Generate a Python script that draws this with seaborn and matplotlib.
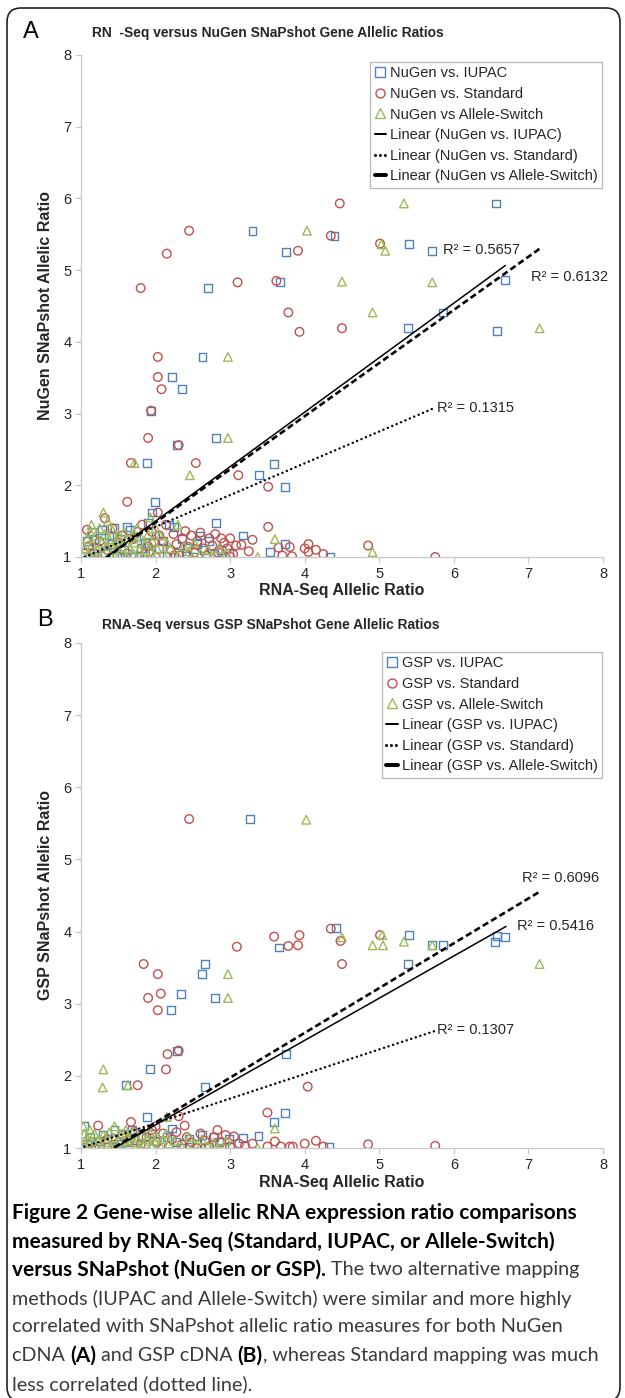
import matplotlib
matplotlib.use("Agg")
import matplotlib.pyplot as plt
import matplotlib.transforms as mtrans
import numpy as np
import pandas as pd
import seaborn as sns
from matplotlib.lines import Line2D
from matplotlib.patches import FancyBboxPatch

# ---------------- data ----------------
# panel A: RNA-Seq ratio (x) vs NuGen SNaPshot ratio (y)
nugen_iupac = [
    (6.56, 5.93), (4.40, 5.48), (3.30, 5.55), (3.75, 5.25), (5.40, 5.37), (5.71, 5.27),
    (6.69, 4.86), (3.67, 4.84), (2.70, 4.75), (5.86, 4.41), (5.39, 4.19), (6.58, 4.15),
    (2.63, 3.79), (2.22, 3.51), (2.35, 3.34), (1.94, 3.04), (2.29, 2.56), (2.81, 2.66),
    (1.89, 2.31), (3.59, 2.30), (3.39, 2.14), (3.74, 1.98), (1.99, 1.77), (1.95, 1.62),
    (2.81, 1.47), (3.17, 1.30), (3.74, 1.18), (3.53, 1.07), (4.34, 1.00), (2.60, 1.30),
    (1.05, 1.05), (1.08, 1.22), (1.12, 1.00), (1.18, 1.25), (1.22, 1.12), (1.28, 1.38),
    (1.32, 1.05), (1.38, 1.30), (1.42, 1.18), (1.48, 1.02), (1.52, 1.25), (1.58, 1.10),
    (1.62, 1.42), (1.66, 1.38), (1.70, 1.00), (1.74, 1.28), (1.80, 1.12), (1.86, 1.20),
    (1.90, 1.48), (1.93, 1.05), (2.00, 1.30), (2.05, 1.12), (2.10, 1.22), (2.18, 1.45),
    (2.25, 1.42), (2.30, 1.06), (2.36, 1.25), (2.42, 1.12), (2.50, 1.00), (2.55, 1.18),
    (2.65, 1.10), (2.72, 1.22), (2.78, 1.04), (2.88, 1.10), (2.98, 1.05), (1.15, 1.35),
    (1.45, 1.40), (1.55, 1.00), (1.78, 1.02), (2.15, 1.02),
]
nugen_standard = [
    (4.47, 5.93), (4.35, 5.48), (2.45, 5.55), (2.15, 5.23), (3.91, 5.27), (5.01, 5.37),
    (1.80, 4.75), (3.10, 4.83), (3.62, 4.85), (3.78, 4.41), (3.93, 4.14), (4.50, 4.19),
    (2.03, 3.79), (2.03, 3.51), (2.08, 3.34), (1.94, 3.04), (1.90, 2.66), (2.31, 2.56),
    (1.67, 2.31), (2.54, 2.31), (3.11, 2.14), (3.51, 1.98), (1.62, 1.77), (2.03, 1.62),
    (1.08, 1.38), (1.32, 1.54), (3.51, 1.42), (3.65, 1.13), (3.80, 1.14), (3.70, 1.02),
    (3.83, 1.01), (4.05, 1.18), (4.00, 1.12), (4.05, 1.07), (4.15, 1.10), (4.25, 1.04),
    (4.85, 1.16), (5.75, 1.00),
    (1.10, 1.15), (1.18, 1.05), (1.25, 1.22), (1.35, 1.10), (1.42, 1.40), (1.50, 1.20),
    (1.55, 1.30), (1.62, 1.05), (1.70, 1.25), (1.76, 1.35), (1.82, 1.45), (1.86, 1.05),
    (1.90, 1.15), (1.95, 1.35), (2.00, 1.00), (2.05, 1.30), (2.10, 1.22), (2.14, 1.45),
    (2.20, 1.10), (2.24, 1.32), (2.28, 1.18), (2.32, 1.02), (2.36, 1.26), (2.40, 1.36),
    (2.44, 1.14), (2.48, 1.30), (2.52, 1.06), (2.56, 1.22), (2.60, 1.34), (2.64, 1.12),
    (2.68, 1.02), (2.72, 1.26), (2.76, 1.16), (2.80, 1.32), (2.84, 1.06), (2.88, 1.26),
    (2.92, 1.20), (2.96, 1.12), (3.00, 1.26), (3.04, 1.04), (3.08, 1.16), (3.15, 1.17),
    (3.25, 1.08), (3.30, 1.24), (3.00, 1.00), (2.25, 1.02), (1.98, 1.20),
]
nugen_switch = [
    (5.33, 5.93), (4.03, 5.55), (5.03, 5.36), (5.08, 5.27), (4.50, 4.84), (5.71, 4.83),
    (4.91, 4.41), (7.15, 4.19), (2.97, 3.79), (2.97, 2.66), (2.46, 2.14), (1.72, 2.31),
    (1.30, 1.62), (3.60, 1.25), (3.37, 1.00), (4.91, 1.07), (1.93, 1.55), (2.30, 1.45),
    (1.02, 1.02), (1.05, 1.12), (1.08, 1.25), (1.10, 1.05), (1.12, 1.35), (1.15, 1.18),
    (1.18, 1.00), (1.20, 1.30), (1.22, 1.10), (1.25, 1.40), (1.28, 1.20), (1.30, 1.05),
    (1.32, 1.32), (1.35, 1.15), (1.38, 1.25), (1.40, 1.00), (1.42, 1.38), (1.45, 1.10),
    (1.48, 1.22), (1.50, 1.30), (1.52, 1.05), (1.55, 1.15), (1.58, 1.35), (1.60, 1.00),
    (1.62, 1.25), (1.65, 1.12), (1.68, 1.30), (1.70, 1.05), (1.72, 1.20), (1.75, 1.40),
    (1.78, 1.10), (1.80, 1.28), (1.83, 1.02), (1.86, 1.18), (1.90, 1.32), (1.93, 1.08),
    (1.96, 1.22), (2.00, 1.40), (2.02, 1.12), (2.06, 1.30), (2.10, 1.05), (2.15, 1.20),
    (2.20, 1.12), (2.30, 1.02), (2.38, 1.15), (2.45, 1.08), (2.52, 1.20), (2.60, 1.05),
    (2.70, 1.10), (2.75, 1.00), (2.85, 1.12), (2.95, 1.06), (1.14, 1.45), (1.36, 1.50),
]

# panel B: RNA-Seq ratio (x) vs GSP SNaPshot ratio (y)
gsp_iupac = [
    (3.27, 5.56), (4.42, 4.05), (5.40, 3.95), (5.71, 3.81), (5.86, 3.81), (5.39, 3.55),
    (6.55, 3.86), (6.58, 3.94), (6.69, 3.93), (3.65, 3.78), (2.66, 3.55), (2.62, 3.41),
    (2.34, 3.14), (2.80, 3.08), (2.21, 2.91), (2.29, 2.35), (3.75, 2.30), (1.92, 2.09),
    (1.60, 1.87), (2.66, 1.84), (3.73, 1.49), (3.59, 1.36), (1.89, 1.43), (1.04, 1.31),
    (3.38, 1.17), (3.17, 1.14), (4.33, 1.01),
    (1.08, 1.05), (1.12, 1.15), (1.18, 1.00), (1.25, 1.10), (1.30, 1.18), (1.36, 1.02),
    (1.42, 1.12), (1.50, 1.05), (1.55, 1.20), (1.62, 1.08), (1.68, 1.25), (1.74, 1.00),
    (1.80, 1.15), (1.86, 1.05), (1.95, 1.20), (2.00, 1.10), (2.08, 1.02), (2.15, 1.15),
    (2.22, 1.27), (2.28, 1.08), (2.35, 1.00), (2.45, 1.12), (2.55, 1.05), (2.62, 1.18),
    (2.70, 1.02), (2.78, 1.15), (2.85, 1.08), (2.92, 1.00), (2.98, 1.12), (1.45, 1.25),
]
gsp_standard = [
    (2.45, 5.56), (4.35, 4.04), (3.59, 3.93), (3.78, 3.80), (3.93, 3.95), (3.91, 3.81),
    (3.09, 3.79), (4.48, 3.87), (4.50, 3.55), (5.01, 3.95), (1.84, 3.55), (2.03, 3.41),
    (1.90, 3.08), (2.07, 3.14), (2.03, 2.91), (2.16, 2.30), (2.31, 2.35), (2.14, 2.09),
    (1.76, 1.87), (4.04, 1.85), (3.50, 1.49), (2.31, 1.44), (2.39, 1.31), (1.67, 1.36),
    (1.23, 1.31), (3.68, 1.02), (3.60, 1.09), (3.80, 1.02), (3.84, 1.02), (3.50, 1.02),
    (4.00, 1.06), (4.15, 1.10), (4.25, 1.02), (4.85, 1.05), (5.75, 1.03),
    (1.05, 1.00), (1.15, 1.08), (1.25, 1.02), (1.35, 1.12), (1.45, 1.05), (1.55, 1.18),
    (1.65, 1.10), (1.72, 1.22), (1.80, 1.05), (1.88, 1.15), (1.95, 1.25), (2.02, 1.08),
    (2.10, 1.20), (2.18, 1.02), (2.22, 1.12), (2.28, 1.22), (2.35, 1.05), (2.42, 1.15),
    (2.48, 1.08), (2.55, 1.00), (2.60, 1.20), (2.66, 1.10), (2.72, 1.02), (2.78, 1.15),
    (2.83, 1.25), (2.88, 1.08), (2.94, 1.18), (3.00, 1.02), (3.05, 1.16), (3.12, 1.06),
    (3.20, 1.03), (3.30, 1.06), (2.00, 1.30),
]
gsp_switch = [
    (4.02, 5.55), (4.50, 3.92), (4.91, 3.81), (5.05, 3.81), (5.04, 3.95), (5.33, 3.86),
    (5.71, 3.81), (7.15, 3.55), (2.97, 3.41), (2.97, 3.08), (1.30, 2.09), (1.29, 1.84),
    (1.63, 1.87), (3.60, 1.27), (3.37, 1.00), (1.03, 1.30), (1.05, 1.20), (1.45, 1.30),
    (2.15, 1.43),
    (1.05, 1.05), (1.08, 1.15), (1.10, 1.00), (1.14, 1.10), (1.18, 1.20), (1.20, 1.05),
    (1.24, 1.12), (1.28, 1.00), (1.30, 1.18), (1.34, 1.08), (1.38, 1.22), (1.40, 1.02),
    (1.44, 1.14), (1.48, 1.06), (1.52, 1.20), (1.55, 1.00), (1.58, 1.10), (1.62, 1.16),
    (1.65, 1.04), (1.68, 1.22), (1.72, 1.08), (1.75, 1.14), (1.78, 1.00), (1.82, 1.18),
    (1.85, 1.06), (1.88, 1.12), (1.92, 1.22), (1.95, 1.02), (1.98, 1.10), (2.02, 1.16),
    (2.06, 1.04), (2.10, 1.12), (2.14, 1.20), (2.18, 1.06), (2.25, 1.10), (2.35, 1.03),
    (2.45, 1.15), (2.52, 1.06), (2.62, 1.12), (2.70, 1.02), (2.78, 1.08), (2.85, 1.00),
    (2.95, 1.10), (1.12, 1.25), (1.60, 1.25),
]

# Excel linear trendlines: slope, intercept, x range, R^2
trend_a = {
    "IUPAC":    (0.760, -0.020, 1.00, 6.69, "R² = 0.5657"),
    "Standard": (0.443, 0.535, 1.05, 5.75, "R² = 0.1315"),
    "Switch":   (0.741, 0.000, 1.00, 7.15, "R² = 0.6132"),
}
trend_b = {
    "IUPAC":    (0.585, 0.152, 1.00, 6.70, "R² = 0.5416"),
    "Standard": (0.341, 0.662, 1.05, 5.77, "R² = 0.1307"),
    "Switch":   (0.621, 0.112, 1.00, 7.15, "R² = 0.6096"),
}
# where each R^2 label sits (data coords, left edge)
r2_pos_a = {"IUPAC": (5.85, 5.28), "Standard": (5.77, 3.08), "Switch": (7.04, 4.90)}
r2_pos_b = {"IUPAC": (6.85, 4.08), "Standard": (5.78, 2.64), "Switch": (6.91, 4.74)}

legend_a = ["NuGen vs. IUPAC", "NuGen vs. Standard", "NuGen vs Allele-Switch",
            "Linear (NuGen vs. IUPAC)", "Linear (NuGen vs. Standard)",
            "Linear (NuGen vs Allele-Switch)"]
legend_b = ["GSP vs. IUPAC", "GSP vs. Standard", "GSP vs. Allele-Switch",
            "Linear (GSP vs. IUPAC)", "Linear (GSP vs. Standard)",
            "Linear (GSP vs. Allele-Switch)"]

ticks = [1, 2, 3, 4, 5, 6, 7, 8]

# ---------------- styling ----------------
sns.set_style("white")
plt.rcParams['font.family'] = ['Liberation Sans', 'DejaVu Sans']

BLUE, RED, GREEN = '#4f81bd', '#c0504d', '#9bbb59'
TXT = '#262626'
W, H = 625, 1398

fig = plt.figure(figsize=(W / 100, H / 100), dpi=100)


def px_axes(left, top, right, bottom):
    return fig.add_axes([left / W, 1 - bottom / H, (right - left) / W, (bottom - top) / H])


line_styles = {
    "IUPAC": dict(linestyle='-', linewidth=1.1),
    "Standard": dict(linestyle=(0, (0.01, 1.9)), linewidth=1.8, dash_capstyle='round'),
    "Switch": dict(linestyle=(0, (2.4, 1.3)), linewidth=1.9),
}


def draw_panel(ax, iupac, standard, switch, trends, r2_pos, labels, ylabel, leg_top):
    markers = [(iupac, 's', BLUE, 32), (standard, 'o', RED, 38), (switch, '^', GREEN, 38)]
    for pts, mk, col, size in markers:
        df = pd.DataFrame(pts, columns=["rna", "snap"])
        sns.scatterplot(data=df, x="rna", y="snap", marker=mk, s=size, color=col,
                        facecolor='none', edgecolor=col, linewidth=1.0, ax=ax,
                        legend=False, zorder=2)

    for key in ["IUPAC", "Standard", "Switch"]:
        slope, icpt, x0, x1, r2 = trends[key]
        xs = np.array([x0, x1])
        sns.lineplot(x=xs, y=slope * xs + icpt, color='black', ax=ax,
                     zorder=3, **line_styles[key])
        ax.text(*r2_pos[key], r2, fontsize=10.5, color=TXT, ha='left', va='center')

    ax.set_xlim(1, 8)
    ax.set_ylim(1, 8)
    ax.set_xticks(ticks)
    ax.set_yticks(ticks)
    for side in ['top', 'right']:
        ax.spines[side].set_visible(False)
    for side in ['left', 'bottom']:
        ax.spines[side].set_color('#c8c8c8')
        ax.spines[side].set_linewidth(0.9)
    ax.tick_params(axis='both', direction='out', length=4, width=0.9, color='#c8c8c8',
                   labelsize=10.5, labelcolor=TXT, pad=3, bottom=True, left=True)
    ax.set_xlabel("RNA-Seq Allelic Ratio", fontsize=11.5, fontweight='bold', color=TXT,
                  labelpad=2)
    ax.set_ylabel(ylabel, fontsize=11.5, fontweight='bold', color=TXT, labelpad=7)

    handles = [
        Line2D([], [], marker='s', ls='none', mfc='none', mec=BLUE, ms=6.5, mew=1),
        Line2D([], [], marker='o', ls='none', mfc='none', mec=RED, ms=6.5, mew=1),
        Line2D([], [], marker='^', ls='none', mfc='none', mec=GREEN, ms=6.5, mew=1),
        Line2D([], [], color='black', lw=1.4),
        Line2D([], [], color='black', lw=2.2, ls=(0, (0.01, 1.6)), dash_capstyle='round'),
        Line2D([], [], color='black', lw=2.8),
    ]
    leg = ax.legend(handles, labels, loc='upper right', bbox_to_anchor=(0.998, leg_top),
                    borderaxespad=0, fontsize=10.5, frameon=True, fancybox=False,
                    handlelength=0.8, handletextpad=0.25, labelspacing=0.45,
                    borderpad=0.3)
    leg.get_frame().set_edgecolor('#a6a6a6')
    leg.get_frame().set_linewidth(0.9)
    for t in leg.get_texts():
        t.set_color(TXT)


ax_a = px_axes(81, 55, 603, 557)
draw_panel(ax_a, nugen_iupac, nugen_standard, nugen_switch, trend_a, r2_pos_a,
           legend_a, "NuGen SNaPshot Allelic Ratio", 0.986)

ax_b = px_axes(81, 643, 603, 1148)
draw_panel(ax_b, gsp_iupac, gsp_standard, gsp_switch, trend_b, r2_pos_b,
           legend_b, "GSP SNaPshot Allelic Ratio", 0.982)

# panel letters and titles
fig.text(31 / W, 1 - 32 / H, "A", fontsize=17, ha='center', va='center', color='black')
fig.text(92 / W, 1 - 33 / H, "RN  -Seq versus NuGen SNaPshot Gene Allelic Ratios",
         fontsize=9.9, fontweight='bold', ha='left', va='center', color=TXT)
fig.text(45 / W, 1 - 620 / H, "B", fontsize=17, ha='center', va='center', color='black')
fig.text(102 / W, 1 - 625 / H, "RNA-Seq versus GSP SNaPshot Gene Allelic Ratios",
         fontsize=9.9, fontweight='bold', ha='left', va='center', color=TXT)

# ---------------- caption ----------------
cap = fig.add_axes([0, 0, 1, 1])
cap.axis('off')
cap.set_zorder(-1)
caption_lines = [
    [("Figure 2 Gene-wise allelic RNA expression ratio comparisons", True)],
    [("measured by RNA-Seq (Standard, IUPAC, or Allele-Switch)", True)],
    [("versus SNaPshot (NuGen or GSP).", True), (" The two alternative mapping", False)],
    [("methods (IUPAC and Allele-Switch) were similar and more highly", False)],
    [("correlated with SNaPshot allelic ratio measures for both NuGen", False)],
    [("cDNA ", False), ("(A)", True), (" and GSP cDNA ", False), ("(B)", True),
     (", whereas Standard mapping was much", False)],
    [("less correlated (dotted line).", False)],
]
cap_font = ['Lato', 'DejaVu Sans']
for i, parts in enumerate(caption_lines):
    y = 1 - (1213 + 28.5 * i) / H
    prev = None
    for txt, bold in parts:
        kw = dict(fontsize=15.0 if bold else 14.2, family=cap_font, ha='left',
                  va='center', fontweight='bold' if bold else 'normal',
                  color='black' if bold else '#3a3a3a')
        if prev is None:
            prev = cap.text(12 / W, y, txt, transform=fig.transFigure, **kw)
        else:
            prev = cap.annotate(txt, xy=(1, 0.5), xycoords=prev, **kw)

# rounded frame around the whole figure
frame = FancyBboxPatch((7, -3), 613, 1393, boxstyle='round,pad=0,rounding_size=14',
                       transform=mtrans.IdentityTransform(), fill=False,
                       linewidth=1.2, edgecolor='#222222')
fig.add_artist(frame)

fig.savefig("out.png", dpi=100)
